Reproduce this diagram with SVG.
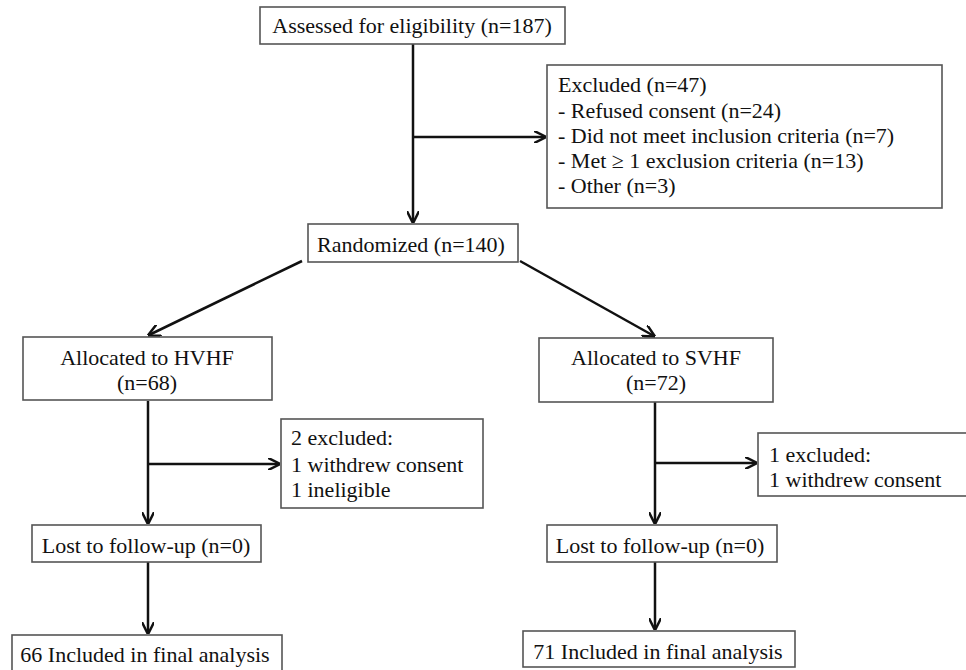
<svg xmlns="http://www.w3.org/2000/svg" width="966" height="670" viewBox="0 0 966 670">
<style>
.box{fill:#fff;stroke:#555;stroke-width:1.6}
.t{font-family:"Liberation Serif","Times New Roman",serif;font-size:22px;fill:#111}
.c{text-anchor:middle}
.ln{stroke:#111;stroke-width:2.5;fill:none}
</style>
<defs>
<marker id="ah" viewBox="0 0 10 10" refX="9" refY="5" markerWidth="5" markerHeight="5" orient="auto" markerUnits="strokeWidth">
<path d="M0,0 L10,5 L0,10" fill="none" stroke="#111" stroke-width="2"/>
</marker>
</defs>
<rect width="966" height="670" fill="#fff"/>
<g id="connectors">
<line class="ln" x1="413" y1="44" x2="413" y2="222" marker-end="url(#ah)"/>
<line class="ln" x1="413" y1="137" x2="545" y2="137" marker-end="url(#ah)"/>
<line class="ln" x1="302" y1="261" x2="149" y2="335" marker-end="url(#ah)"/>
<line class="ln" x1="520" y1="261" x2="654" y2="336" marker-end="url(#ah)"/>
<line class="ln" x1="148" y1="401" x2="148" y2="523" marker-end="url(#ah)"/>
<line class="ln" x1="148" y1="464" x2="279" y2="464" marker-end="url(#ah)"/>
<line class="ln" x1="148" y1="562" x2="148" y2="633" marker-end="url(#ah)"/>
<line class="ln" x1="655" y1="402" x2="655" y2="523" marker-end="url(#ah)"/>
<line class="ln" x1="655" y1="463" x2="756" y2="463" marker-end="url(#ah)"/>
<line class="ln" x1="655" y1="562" x2="655" y2="629" marker-end="url(#ah)"/>
</g>
<g id="assessed">
<rect class="box" x="260" y="7" width="305" height="37"/>
<text class="t c" x="412" y="33">Assessed for eligibility  (n=187)</text>
</g>
<g id="excluded">
<rect class="box" x="547" y="65" width="395" height="143"/>
<text class="t" x="558" y="92">Excluded (n=47)</text>
<text class="t" x="558" y="118">- Refused consent (n=24)</text>
<text class="t" x="558" y="143">- Did not meet inclusion criteria (n=7)</text>
<text class="t" x="558" y="168">- Met ≥ 1 exclusion criteria (n=13)</text>
<text class="t" x="558" y="193">- Other (n=3)</text>
</g>
<g id="randomized">
<rect class="box" x="308" y="224" width="210" height="38"/>
<text class="t c" x="411" y="252">Randomized (n=140)</text>
</g>
<g id="hvhf">
<rect class="box" x="23" y="337" width="249" height="63"/>
<text class="t c" x="147" y="365">Allocated to HVHF</text>
<text class="t c" x="147" y="390">(n=68)</text>
</g>
<g id="svhf">
<rect class="box" x="539" y="338" width="234" height="64"/>
<text class="t c" x="656" y="365">Allocated to SVHF</text>
<text class="t c" x="656" y="390">(n=72)</text>
</g>
<g id="excl-hvhf">
<rect class="box" x="281" y="419" width="202" height="89"/>
<text class="t" x="291" y="445">2 excluded:</text>
<text class="t" x="291" y="472">1 withdrew consent</text>
<text class="t" x="291" y="497">1 ineligible</text>
</g>
<g id="excl-svhf">
<rect class="box" x="758" y="433" width="215" height="63"/>
<text class="t" x="769" y="462">1 excluded:</text>
<text class="t" x="769" y="487">1 withdrew consent</text>
</g>
<g id="lost-hvhf">
<rect class="box" x="32" y="525" width="229" height="37"/>
<text class="t c" x="146" y="553">Lost to follow-up (n=0)</text>
</g>
<g id="lost-svhf">
<rect class="box" x="547" y="525" width="230" height="37"/>
<text class="t c" x="660" y="553">Lost to follow-up (n=0)</text>
</g>
<g id="final-hvhf">
<rect class="box" x="12" y="635" width="270" height="40"/>
<text class="t c" x="145" y="662">66 Included in final analysis</text>
</g>
<g id="final-svhf">
<rect class="box" x="523" y="631" width="272" height="36"/>
<text class="t c" x="658" y="659">71 Included in final analysis</text>
</g>
</svg>
